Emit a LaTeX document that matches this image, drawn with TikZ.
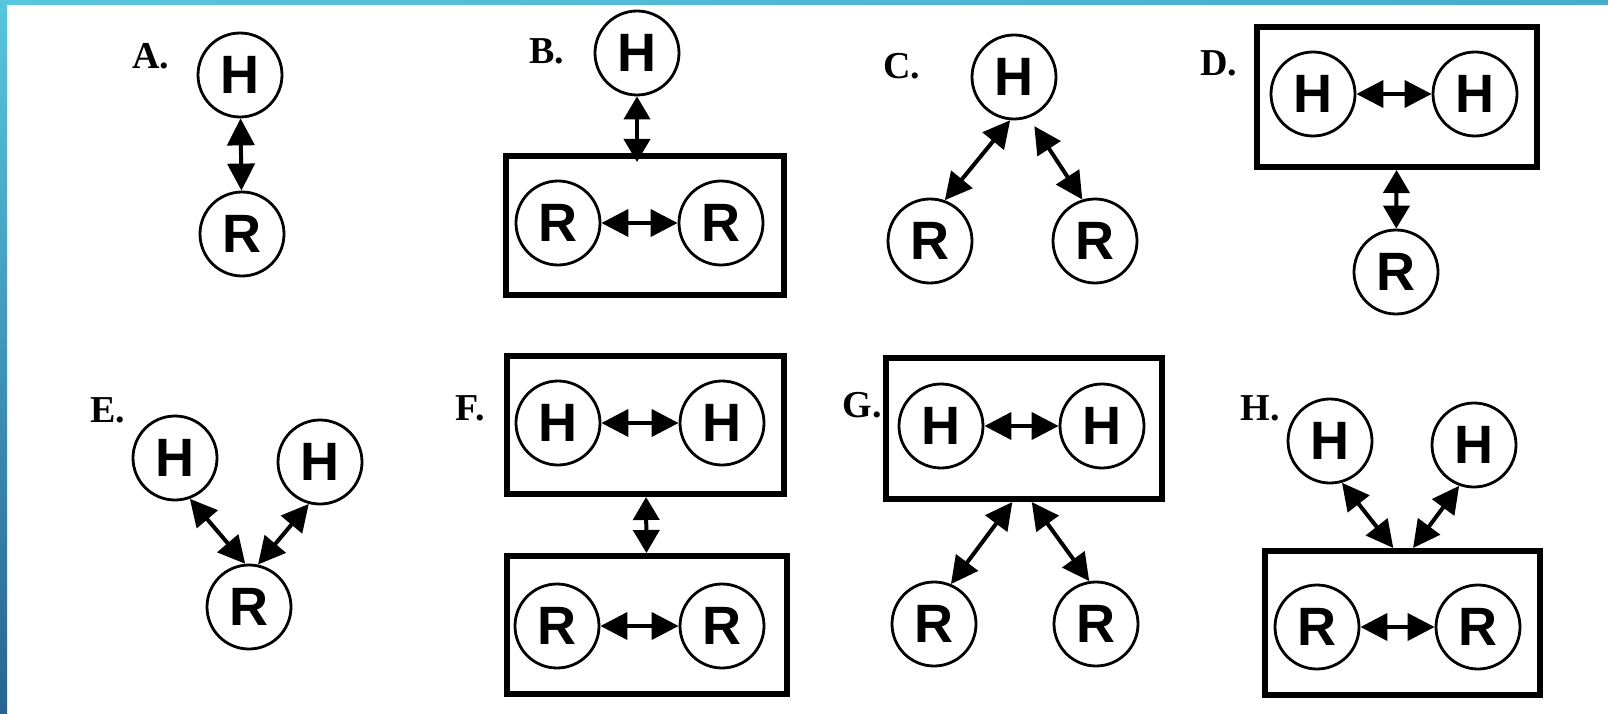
\documentclass[tikz,border=0pt]{standalone}
\usepackage{fontspec}
\setmainfont{Liberation Serif}
\setsansfont{Liberation Sans}
\usetikzlibrary{arrows.meta}
\definecolor{barlight}{RGB}{88,198,220}
\definecolor{barmid}{RGB}{70,172,206}
\definecolor{bardark}{RGB}{40,100,145}
\tikzset{
 agent/.style={circle, draw, line width=2.8pt, minimum size=84pt, inner sep=0pt, font=\sffamily\bfseries\fontsize{54}{54}\selectfont},
 grp/.style={draw, line width=6pt, inner sep=0pt},
 lbl/.style={font=\bfseries\fontsize{38}{38}\selectfont, inner sep=0pt},
 arr/.style={line width=4pt, {Triangle[length=27pt,width=27pt]}-{Triangle[length=27pt,width=27pt]}},
 shortarr/.style={line width=4pt, {Triangle[length=23pt,width=26pt]}-{Triangle[length=23pt,width=26pt]}},
}
\begin{document}
\begin{tikzpicture}[x=1pt,y=-1pt]
\useasboundingbox (0,0) rectangle (1608,714);
\fill[white] (0,0) rectangle (1608,714);
\shade[left color=barlight, right color=barmid] (0,0) rectangle (1608,5);
\shade[top color=barlight, bottom color=bardark] (0,0) rectangle (7,714);

% group boxes
\node[grp, minimum width=278pt, minimum height=139pt] (boxB) at (645,225.5) {};
\node[grp, minimum width=280pt, minimum height=140pt] (boxD) at (1397,97) {};
\node[grp, minimum width=277pt, minimum height=138pt] (boxF1) at (645.5,425) {};
\node[grp, minimum width=280pt, minimum height=138pt] (boxF2) at (647,625) {};
\node[grp, minimum width=276pt, minimum height=141pt] (boxG) at (1024,428.5) {};
\node[grp, minimum width=275pt, minimum height=144pt] (boxH) at (1402.5,623) {};

% labels
\node[lbl] (lA) at (151,56) {A.};
\node[lbl] (lB) at (547,51) {B.};
\node[lbl] (lC) at (902,66) {C.};
\node[lbl] (lD) at (1219,63) {D.};
\node[lbl] (lE) at (108,410) {E.};
\node[lbl] (lF) at (470,408) {F.};
\node[lbl] (lG) at (862,405) {G.};
\node[lbl] (lH) at (1260,408) {H.};

% A
\node[agent] (hA) at (240,75) {H};
\node[agent] (rA) at (242,234) {R};
% B
\node[agent] (hB) at (637,53) {H};
\node[agent] (rB1) at (558,223) {R};
\node[agent] (rB2) at (721,223) {R};
% C
\node[agent] (hC) at (1014,77) {H};
\node[agent] (rC1) at (930,241) {R};
\node[agent] (rC2) at (1095,241) {R};
% D
\node[agent] (hD1) at (1313,94) {H};
\node[agent] (hD2) at (1475,94) {H};
\node[agent] (rD) at (1396,272) {R};
% E
\node[agent] (hE1) at (175,458) {H};
\node[agent] (hE2) at (320,462) {H};
\node[agent] (rE) at (249,607) {R};
% F
\node[agent] (hF1) at (558,423) {H};
\node[agent] (hF2) at (722,423) {H};
\node[agent] (rF1) at (557,626) {R};
\node[agent] (rF2) at (722,626) {R};
% G
\node[agent] (hG1) at (941,426) {H};
\node[agent] (hG2) at (1102,426) {H};
\node[agent] (rG1) at (934,624) {R};
\node[agent] (rG2) at (1096,624) {R};
% H
\node[agent] (hH1) at (1330,441) {H};
\node[agent] (hH2) at (1474,445) {H};
\node[agent] (rH1) at (1317,627) {R};
\node[agent] (rH2) at (1478,627) {R};

% connectors
\draw[arr] (hA) -- (rA);
\draw[shortarr, shorten >=-9pt] (hB) -- (hB |- boxB.north);
\draw[arr] (rB1) -- (rB2);
\draw[arr] (hC.265) -- (rC1.70);
\draw[arr, shorten <=10pt] (hC.-70) -- (rC2.107);
\draw[arr] (hD1) -- (hD2);
\draw[shortarr] (boxD) -- (rD);
\draw[arr] (hE1.-70) -- (rE.95);
\draw[arr] (rE.78) -- (hE2.-105);
\draw[arr] (hF1) -- (hF2);
\draw[arr] (rF1) -- (rF2);
\draw[shortarr] (boxF1) -- (boxF2);
\draw[arr] (hG1) -- (hG2);
\draw[arr] (boxG.261) -- (rG1.67);
\draw[arr] (boxG.276) -- (rG2.99);
\draw[arr] (rH1) -- (rH2);
\draw[arr] (boxH.97.5) -- (hH1.-74);
\draw[arr] (boxH.82) -- (hH2.-110);
\end{tikzpicture}
\end{document}
